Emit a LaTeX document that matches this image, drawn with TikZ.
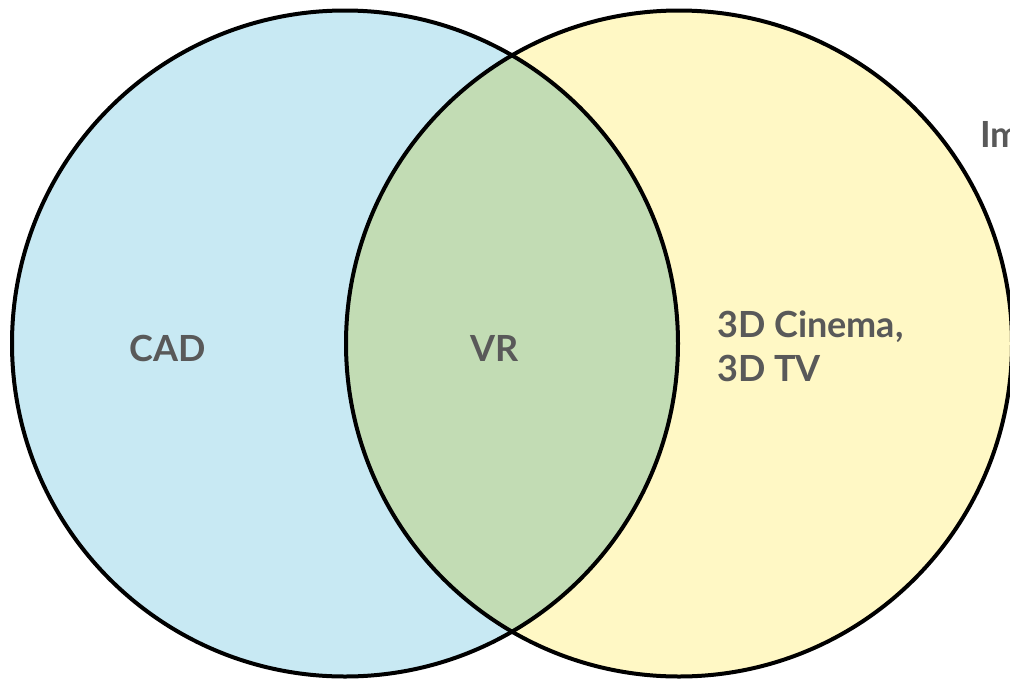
\documentclass[tikz,border=0pt]{standalone}
\usepackage{fontspec}
\setmainfont{Lato}
\definecolor{cadblue}{HTML}{C8E9F3}
\definecolor{tvyellow}{HTML}{FFF8C5}
\definecolor{vrgreen}{HTML}{C2DCB4}
\definecolor{labelgrey}{HTML}{595959}
\tikzset{
  lbl/.style={font=\fontsize{36}{44}\selectfont\bfseries, text=labelgrey, inner sep=0pt, anchor=base west},
  ring/.style={line width=4pt, draw=black}
}
\begin{document}
\begin{tikzpicture}[x=1pt,y=-1pt]
\useasboundingbox (0,0) rectangle (1010,681);
\clip (0,0) rectangle (1010,681);
\coordinate (cl) at (345,343.5);
\coordinate (cr) at (679,343.5);
\fill[cadblue] (cl) circle[radius=333];
\fill[tvyellow] (cr) circle[radius=333];
\begin{scope}
  \clip (cl) circle[radius=333];
  \fill[vrgreen] (cr) circle[radius=333];
\end{scope}
\draw[ring] (cl) circle[radius=333];
\draw[ring] (cr) circle[radius=333];
\node[lbl] (cad) at (129,361) {CAD};
\node[lbl] (vr) at (470,361) {VR};
\node[lbl] (cinema) at (717,337) {3D Cinema,};
\node[lbl] (tv) at (717,381) {3D TV};
\node[lbl] (im) at (980,147) {Im};
\end{tikzpicture}
\end{document}
